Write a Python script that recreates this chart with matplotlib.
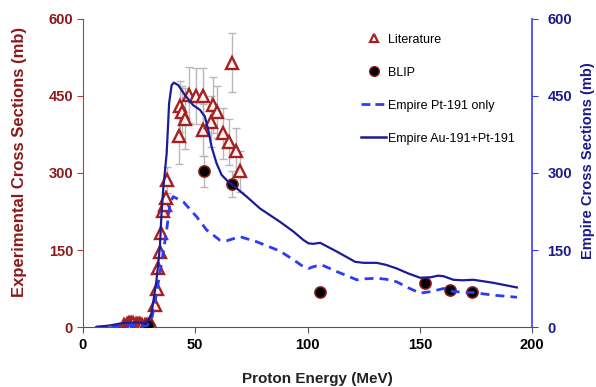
import matplotlib
matplotlib.use("Agg")
import matplotlib.pyplot as plt
from matplotlib.lines import Line2D

plt.rcParams['font.family'] = ['Liberation Sans', 'DejaVu Sans']

# Literature data (energy MeV, cross section mb, error mb)
lit_E = [18.5, 19.5, 20.5, 21.5, 22.5, 23.5, 24.5, 25.5, 26.5, 27.5, 28.5, 29.5, 30.5,
         32.1, 32.8, 33.5, 34.3, 35.0, 35.8, 36.5, 37.0, 37.5,
         42.9, 43.2, 44.0, 45.4, 47.4, 50.3, 53.3, 53.6, 57.0, 57.8, 59.5,
         62.2, 65.2, 66.2, 68.2, 69.9]
lit_sig = [4, 6, 8, 8, 7, 6, 5, 6, 4, 3, 3, 2, 5,
           43, 75, 114, 147, 183, 225, 238, 251, 286,
           372, 430, 419, 406, 452, 450, 450, 384, 400, 432, 419,
           377, 361, 515, 343, 303]
lit_err = [0, 0, 0, 0, 0, 0, 0, 0, 0, 0, 0, 0, 0,
           0, 0, 0, 0, 0, 0, 0, 0, 25,
           55, 50, 50, 60, 55, 55, 55, 50, 50, 55, 50,
           50, 45, 57, 45, 40]

# BLIP data
blip_E = [29.0, 53.9, 66.3, 105.6, 152.3, 163.3, 173.0]
blip_sig = [4, 303, 279, 68, 86, 73, 68]
blip_err = [0, 30, 25, 0, 0, 0, 0]

# Empire Au-191 + Pt-191
au_E = [6, 12, 18, 24, 28.4, 30.6, 32.8, 34.3, 35.0, 35.8, 37.3, 38.4, 39.5, 40.5,
        42.5, 45.4, 49.1, 52.1, 54.3, 55.8, 57.3, 59.5, 61.8, 64.7, 68.5, 72.9,
        78.8, 87.7, 93.7, 98.0, 100.4, 102.5, 105.6, 113.0, 121.2, 125.0, 130.8, 135.0,
        139.7, 145.0, 150.1, 155.0, 158.0, 160.5,
        164.9, 169.0, 173.9, 182.8, 193.2]
au_sig = [0, 3, 8, 9, 7, 27, 92, 156, 221, 270, 338, 436, 471, 476,
          471, 452, 432, 423, 410, 384, 351, 319, 296, 283, 270, 254,
          231, 205, 186, 170, 163, 162, 164, 147, 127, 125, 125, 121,
          114, 104, 96, 97, 100, 99,
          92, 91, 92, 86, 77]

# Empire Pt-191 only
pt_E = [6, 12, 18, 24, 28.4, 30.6, 32.8, 35.0, 37.3, 38.8, 40.2, 44.7, 50.6, 55.1,
        61.0, 64.0, 67.0, 69.9, 77.4, 87.7, 93.7, 98.0, 100.4, 103.0, 106.3, 113.0, 121.9,
        126.0, 130.8, 135.0, 139.7, 145.0, 150.1, 155.0, 160.5, 164.9, 173.9, 182.8, 193.2]
pt_sig = [0, 1, 3, 3, 2, 14, 66, 124, 189, 241, 254, 244, 215, 189,
          169, 168, 172, 176, 166, 148, 131, 118, 114, 118, 121, 108, 92,
          94, 95, 93, 88, 76, 66, 69, 75, 69, 67, 62, 58]

xticks = [0, 50, 100, 150, 200]
yticks = [0, 150, 300, 450, 600]

red = '#8b1a1a'
navy = '#1a1a8c'
blue_dash = '#2a3cf5'
solid_col = '#1c1c96'

fig = plt.figure(figsize=(5.96, 3.87), dpi=100)
ax = fig.add_axes([0.139, 0.155, 0.754, 0.796])
ax2 = ax.twinx()

ax.errorbar(lit_E, lit_sig, yerr=lit_err, fmt='none', ecolor='#b8b8b8',
            elinewidth=1, capsize=3, capthick=1, zorder=2)
ax.errorbar(blip_E, blip_sig, yerr=blip_err, fmt='none', ecolor='#b8b8b8',
            elinewidth=1, capsize=3, capthick=1, zorder=2)
ax.plot(lit_E, lit_sig, linestyle='none', marker='^', markersize=8,
        markerfacecolor='#fff4f4', markeredgecolor='#a52020', markeredgewidth=1.7, zorder=3)
ax.plot(blip_E, blip_sig, linestyle='none', marker='o', markersize=8,
        markerfacecolor='black', markeredgecolor='#8b1a1a', markeredgewidth=1.2, zorder=4)

ax2.plot(pt_E, pt_sig, color=blue_dash, linestyle=(0, (3.2, 2.2)), linewidth=2.0,
         zorder=5, solid_joinstyle='round')
ax2.plot(au_E, au_sig, color=solid_col, linewidth=1.6, zorder=5, solid_joinstyle='round')

for a in (ax, ax2):
    a.set_xlim(0, 200)
    a.set_ylim(0, 600)
    a.spines['top'].set_visible(False)

ax.set_xticks(xticks)
ax.set_yticks(yticks)
ax2.set_yticks(yticks)
ax.set_xticklabels([str(t) for t in xticks], fontsize=10.5, fontweight='bold', color='black')
ax.set_yticklabels([str(t) for t in yticks], fontsize=10.5, fontweight='bold', color=red)
ax2.set_yticklabels([str(t) for t in yticks], fontsize=10.5, fontweight='bold', color=navy)

ax.spines['left'].set_color('#b04040')
ax.spines['right'].set_visible(False)
ax2.spines['left'].set_visible(False)
ax2.spines['bottom'].set_visible(False)
ax2.spines['right'].set_color('#3a3aff')
ax2.spines['right'].set_linewidth(1.2)
ax.spines['bottom'].set_color('#555555')

ax.tick_params(axis='y', direction='out', length=4, color='#b04040', pad=3)
ax2.tick_params(axis='y', direction='out', length=4, color='#3a3aff', pad=7)
ax.tick_params(axis='x', direction='out', length=4, color='#555555', pad=4)

ax.set_ylabel('Experimental Cross Sections (mb)', fontsize=12, fontweight='bold',
              color=red, va='center')
ax.yaxis.set_label_coords(-0.14, 0.535)
ax2.set_ylabel('Empire Cross Sections (mb)', fontsize=10.5, fontweight='bold',
               color=navy, va='center', rotation=90)
ax2.yaxis.set_label_coords(1.125, 0.54)
ax.set_xlabel('Proton Energy (MeV)', fontsize=11, fontweight='bold',
              color='#222222', va='center')
ax.xaxis.set_label_coords(0.521, -0.17)

handles = [
    Line2D([], [], linestyle='none', marker='^', markersize=6, markerfacecolor='white',
           markeredgecolor='#a52020', markeredgewidth=1.6),
    Line2D([], [], linestyle='none', marker='o', markersize=7, markerfacecolor='black',
           markeredgecolor='#8b1a1a'),
    Line2D([], [], color=blue_dash, linestyle=(0, (3.2, 1.8)), linewidth=2.0),
    Line2D([], [], color=solid_col, linewidth=1.8),
]
labels = ['Literature', 'BLIP', 'Empire Pt-191 only', 'Empire Au-191+Pt-191']
ax2.legend(handles, labels, loc='upper left', bbox_to_anchor=(0.587, 0.942),
           bbox_transform=fig.transFigure, frameon=False, fontsize=9,
           labelspacing=1.68, handlelength=2.0, handletextpad=0.15, numpoints=1)

fig.savefig('out.png', dpi=100)
